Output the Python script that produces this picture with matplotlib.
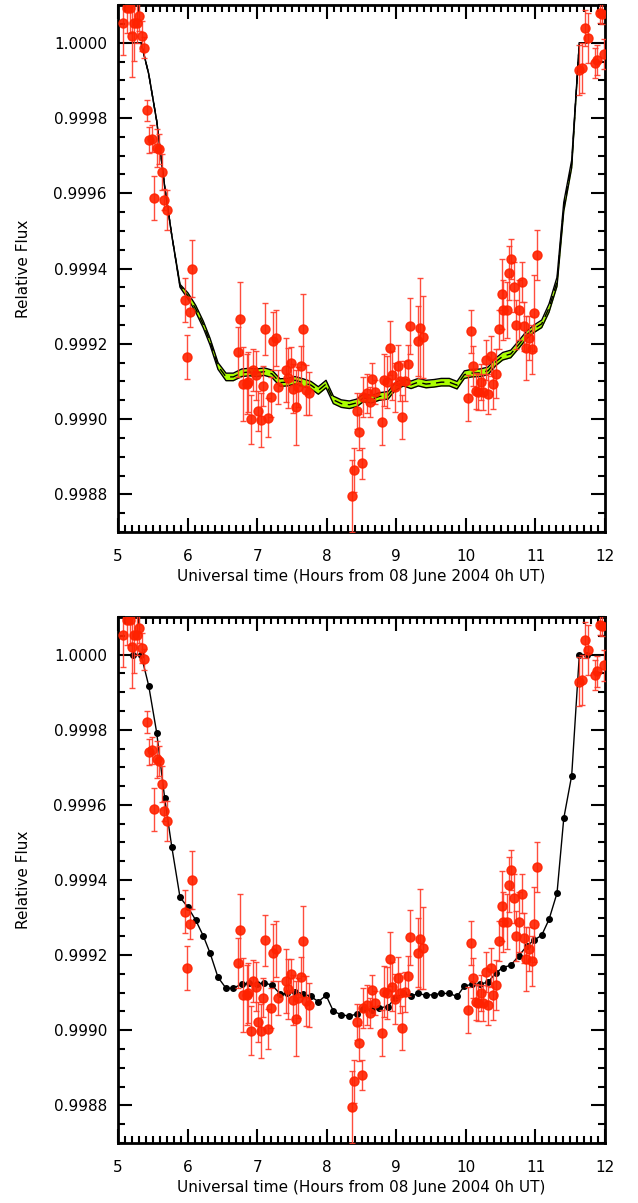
import numpy as np
import matplotlib
matplotlib.use('Agg')
import matplotlib.pyplot as plt
from matplotlib.ticker import MultipleLocator, FormatStrFormatter

# ---- observed photometry (hours UT, relative flux, 1-sigma error) ----
obs_time = [5.076, 5.125, 5.172, 5.197, 5.230, 5.269, 5.302, 5.341, 5.374, 5.413,
            5.450, 5.484, 5.522, 5.556, 5.594, 5.628, 5.666, 5.704, 5.963, 5.996,
            6.035, 6.064, 6.721, 6.754, 6.792, 6.850, 6.864, 6.907, 6.945, 6.984,
            7.017, 7.051, 7.089, 7.117, 7.160, 7.195, 7.232, 7.271, 7.304, 7.411,
            7.448, 7.487, 7.520, 7.559, 7.592, 7.631, 7.664, 7.703, 7.745, 8.359,
            8.397, 8.435, 8.468, 8.512, 8.528, 8.578, 8.622, 8.655, 8.694, 8.799,
            8.823, 8.862, 8.910, 8.943, 8.982, 9.020, 9.053, 9.087, 9.130, 9.164,
            9.197, 9.308, 9.341, 9.380, 10.035, 10.074, 10.107, 10.142, 10.179, 10.218,
            10.251, 10.285, 10.323, 10.362, 10.395, 10.433, 10.477, 10.515, 10.538, 10.587,
            10.620, 10.653, 10.692, 10.721, 10.768, 10.803, 10.840, 10.865, 10.912, 10.951,
            10.980, 11.018, 11.631, 11.674, 11.713, 11.752, 11.856, 11.890, 11.928, 11.961,
            11.990]
obs_flux = [1.000051, 1.000091, 1.000091, 1.000019, 1.000052, 1.000051, 1.000070, 1.000017, 0.999987, 0.999820,
            0.999741, 0.999745, 0.999588, 0.999721, 0.999718, 0.999656, 0.999583, 0.999556, 0.999316, 0.999165,
            0.999284, 0.999400, 0.999179, 0.999267, 0.999094, 0.999094, 0.999099, 0.998999, 0.999131, 0.999116,
            0.999022, 0.998997, 0.999087, 0.999239, 0.999004, 0.999059, 0.999207, 0.999216, 0.999085, 0.999131,
            0.999110, 0.999149, 0.999081, 0.999031, 0.999085, 0.999141, 0.999238, 0.999078, 0.999068, 0.998795,
            0.998864, 0.999022, 0.998966, 0.998882, 0.999059, 0.999068, 0.999045, 0.999106, 0.999072, 0.998992,
            0.999103, 0.999099, 0.999189, 0.999116, 0.999084, 0.999140, 0.999100, 0.999006, 0.999101, 0.999145,
            0.999247, 0.999207, 0.999243, 0.999218, 0.999055, 0.999233, 0.999140, 0.999075, 0.999073, 0.999099,
            0.999072, 0.999156, 0.999066, 0.999167, 0.999094, 0.999121, 0.999238, 0.999331, 0.999289, 0.999289,
            0.999388, 0.999426, 0.999351, 0.999251, 0.999289, 0.999364, 0.999246, 0.999190, 0.999216, 0.999185,
            0.999282, 0.999435, 0.999928, 0.999933, 1.000040, 1.000012, 0.999946, 0.999955, 1.000080, 1.000077,
            0.999971]
obs_err = [8.5e-5, 6.6e-5, 6.6e-5, 1.09e-4, 1.0e-4, 5.3e-5, 4.0e-5, 4.0e-5, 2.9e-5, 2.9e-5,
           3.5e-5, 3.5e-5, 5.8e-5, 5.0e-5, 4.0e-5, 4.8e-5, 2.7e-5, 5.3e-5, 5.8e-5, 5.8e-5,
           4.0e-5, 7.7e-5, 6.6e-5, 9.6e-5, 9.8e-5, 8.0e-5, 8.0e-5, 6.6e-5, 5.6e-5, 6.6e-5,
           5.3e-5, 7.2e-5, 5.3e-5, 6.9e-5, 5.3e-5, 5.3e-5, 7.7e-5, 7.4e-5, 4.5e-5, 8.5e-5,
           8.0e-5, 4.2e-5, 6.6e-5, 1.0e-4, 5.3e-5, 5.3e-5, 9.3e-5, 6.6e-5, 5.8e-5, 9.6e-5,
           5.8e-5, 4.8e-5, 4.8e-5, 4.0e-5, 5.3e-5, 5.3e-5, 4.0e-5, 4.2e-5, 3.2e-5, 6.1e-5,
           6.9e-5, 6.9e-5, 7.2e-5, 6.6e-5, 6.6e-5, 5.6e-5, 5.3e-5, 5.8e-5, 5.3e-5, 5.3e-5,
           7.4e-5, 9.3e-5, 1.33e-4, 1.09e-4, 6.1e-5, 5.8e-5, 5.3e-5, 4.8e-5, 4.8e-5, 4.8e-5,
           4.8e-5, 5.3e-5, 5.3e-5, 5.3e-5, 6.6e-5, 6.6e-5, 5.3e-5, 9.3e-5, 8.0e-5, 7.4e-5,
           7.2e-5, 5.3e-5, 6.6e-5, 6.6e-5, 8.0e-5, 5.3e-5, 6.6e-5, 8.5e-5, 5.8e-5, 6.6e-5,
           1.0e-4, 6.6e-5, 6.6e-5, 6.6e-5, 4.8e-5, 6.6e-5, 4.0e-5, 4.0e-5, 2.7e-5, 2.7e-5,
           4.0e-5]

# ---- model transit light curve ----
model_time = [5.220, 5.331, 5.441, 5.556, 5.671, 5.772, 5.891, 6.006, 6.117, 6.226,
              6.322, 6.437, 6.552, 6.657, 6.778, 6.887, 6.994, 7.103, 7.214, 7.329,
              7.434, 7.544, 7.659, 7.774, 7.879, 7.990, 8.095, 8.210, 8.325, 8.431,
              8.526, 8.647, 8.756, 8.881, 8.982, 9.101, 9.212, 9.317, 9.427, 9.542,
              9.647, 9.762, 9.873, 9.978, 10.084, 10.203, 10.318, 10.429, 10.530, 10.645,
              10.760, 10.875, 10.980, 11.090, 11.195, 11.310, 11.407, 11.521, 11.631, 11.741]
model_flux = [1.000000, 1.000000, 0.999917, 0.999792, 0.999617, 0.999489, 0.999354, 0.999327, 0.999293, 0.999251,
              0.999206, 0.999141, 0.999112, 0.999112, 0.999123, 0.999125, 0.999123, 0.999126, 0.999120, 0.999097,
              0.999098, 0.999103, 0.999097, 0.999090, 0.999076, 0.999093, 0.999051, 0.999041, 0.999038, 0.999043,
              0.999056, 0.999053, 0.999060, 0.999063, 0.999086, 0.999098, 0.999091, 0.999098, 0.999093, 0.999095,
              0.999098, 0.999098, 0.999090, 0.999118, 0.999122, 0.999123, 0.999128, 0.999152, 0.999167, 0.999173,
              0.999198, 0.999224, 0.999240, 0.999253, 0.999295, 0.999365, 0.999564, 0.999678, 1.000000, 1.000000]
# half-width of the model uncertainty band (top panel)
model_band = [0, 0, 0, 0, 0, 0, 4e-6, 8e-6, 9e-6, 9e-6,
              9e-6, 9e-6, 1e-5, 1e-5, 1e-5, 1e-5, 1e-5, 1e-5, 1e-5, 1e-5,
              1e-5, 1e-5, 1e-5, 1e-5, 1e-5, 1e-5, 1e-5, 1e-5, 1e-5, 1e-5,
              1e-5, 1e-5, 1e-5, 1e-5, 1e-5, 1e-5, 1e-5, 1e-5, 1e-5, 1e-5,
              1e-5, 1e-5, 1e-5, 1e-5, 1e-5, 1e-5, 1e-5, 1e-5, 1e-5, 1e-5,
              1e-5, 1e-5, 1e-5, 1e-5, 1.1e-5, 1.2e-5, 1.2e-5, 1.0e-5, 0, 0]

RED = '#ff2200'
ERR_RED = '#ff3a28'
GREEN = '#aaff00'
xlabel = 'Universal time (Hours from 08 June 2004 0h UT)'

plt.rcParams['font.family'] = ['DejaVu Sans']
fig = plt.figure(figsize=(6.38, 12.03), dpi=100)
ax1 = fig.add_axes([0.185, 0.5578, 0.7633, 0.438])
ax2 = fig.add_axes([0.185, 0.0499, 0.7633, 0.4372])

mt = np.array(model_time)
mf = np.array(model_flux)
mb = np.array(model_band)

# ===== top panel: model with uncertainty band =====
ax1.fill_between(mt, mf - mb, mf + mb, color=GREEN, lw=0, zorder=1)
ax1.plot(mt, mf + mb, color='black', lw=1.0, zorder=2)
ax1.plot(mt, mf - mb, color='black', lw=1.0, zorder=2)
ax1.plot(mt, mf, color='black', lw=1.0, ls=(0, (6, 4)), zorder=2)

# ===== bottom panel: sampled model =====
ax2.plot(mt, mf, color='black', lw=1.0, marker='o', ms=4, zorder=2)

for ax in (ax1, ax2):
	ax.errorbar(obs_time, obs_flux, yerr=obs_err, fmt='o', color=RED, ms=6.5,
	            ecolor=ERR_RED, elinewidth=1.0, capsize=2, capthick=1.0, alpha=0.9, zorder=3)
	ax.set_xlim(5, 12)
	ax.set_ylim(0.99870, 1.00010)
	ax.xaxis.set_major_locator(MultipleLocator(1))
	ax.xaxis.set_minor_locator(MultipleLocator(0.1))
	ax.yaxis.set_major_locator(MultipleLocator(0.0002))
	ax.yaxis.set_minor_locator(MultipleLocator(0.00005))
	ax.yaxis.set_major_formatter(FormatStrFormatter('%.4f'))
	ax.tick_params(which='both', direction='in', top=True, right=True, width=1.5, labelsize=11)
	ax.tick_params(which='major', length=10)
	ax.tick_params(which='minor', length=5)
	ax.tick_params(axis='x', pad=12)
	ax.tick_params(axis='y', pad=8)
	for sp in ax.spines.values():
		sp.set_linewidth(2)
	ax.set_xlabel(xlabel, fontsize=11, labelpad=4)
	ax.set_ylabel('Relative Flux', fontsize=11, labelpad=16)

fig.savefig('out.png', dpi=100)
